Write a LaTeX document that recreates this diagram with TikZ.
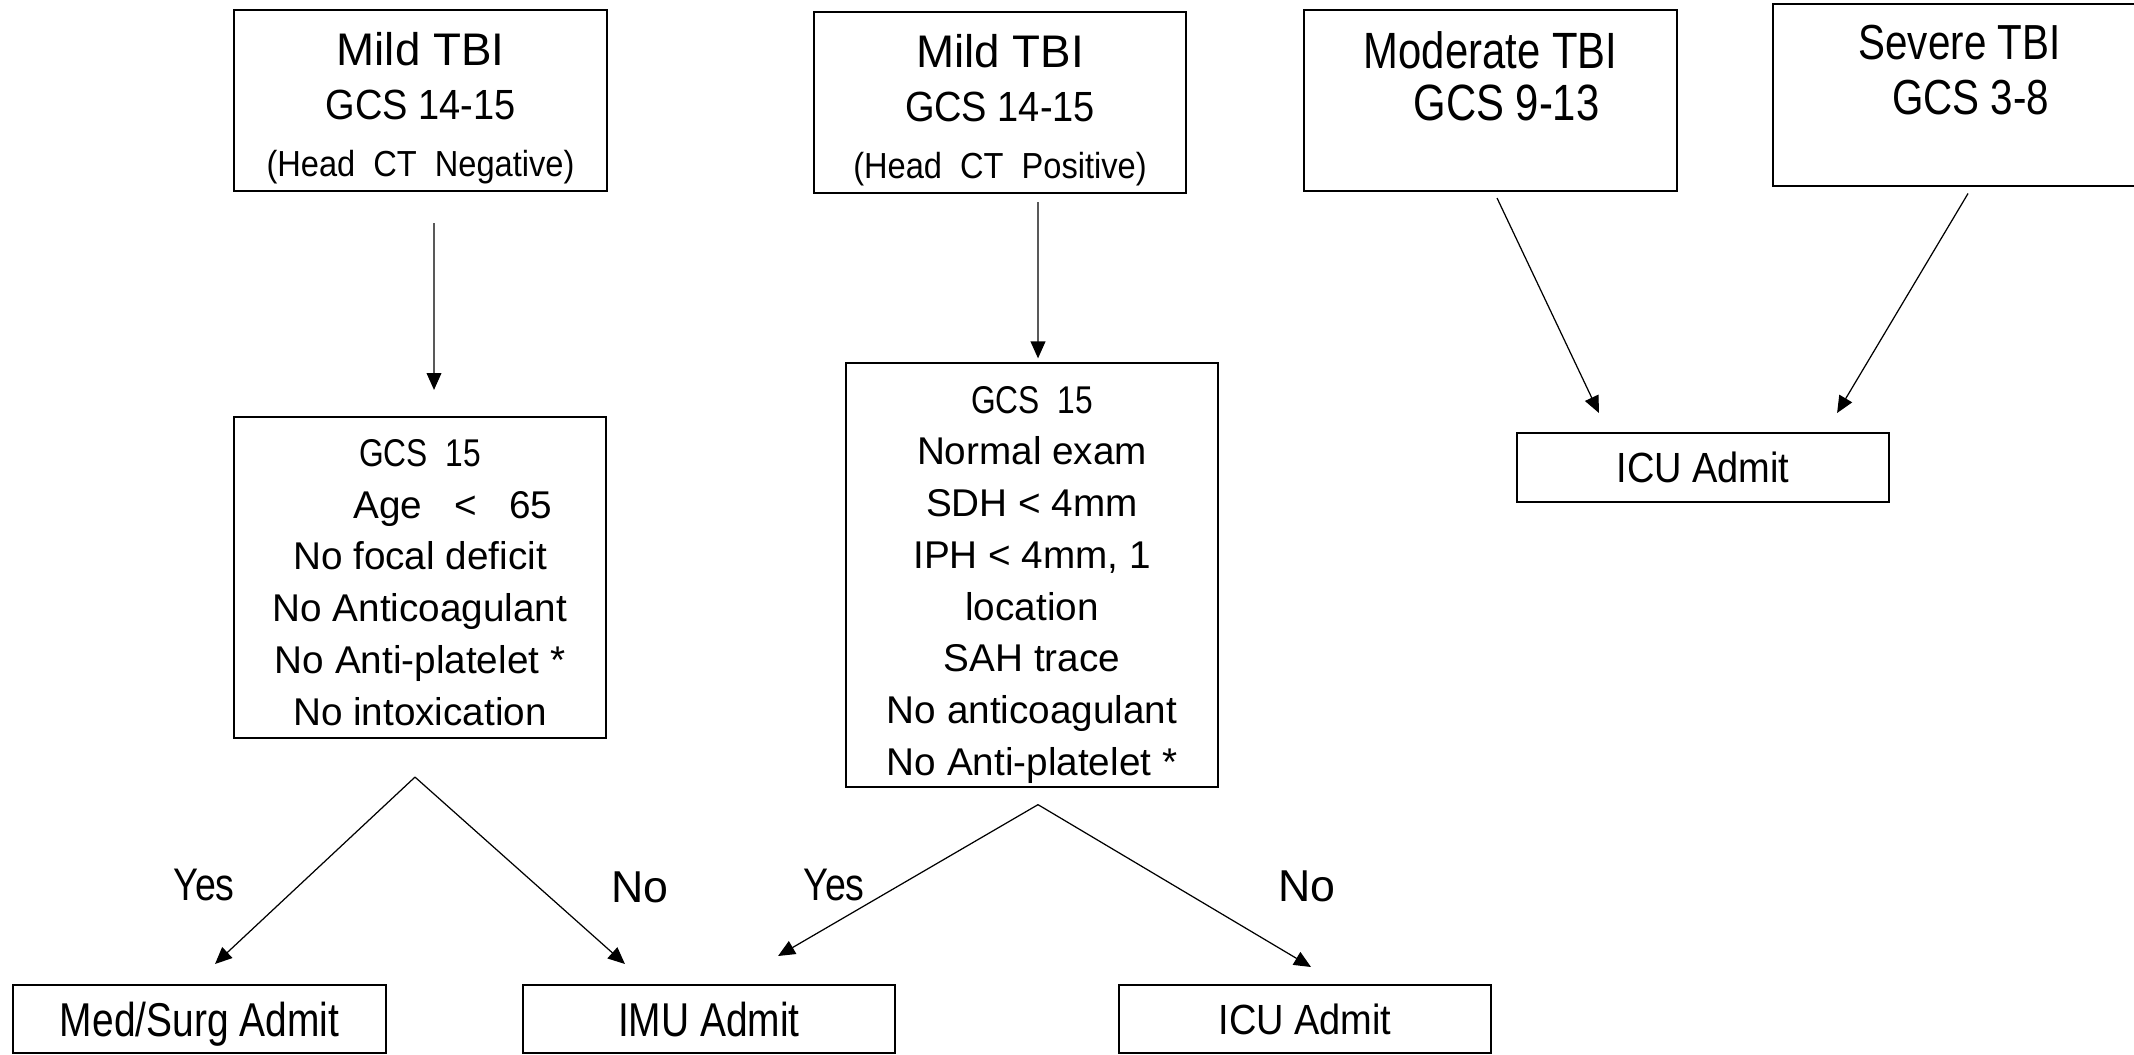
\documentclass[tikz,border=0pt]{standalone}
\usepackage{fontspec}
\setmainfont{Liberation Sans}
\newfontfamily\narrowfont{Liberation Sans}[FakeStretch=0.82]
\newfontfamily\semifont{Liberation Sans}[FakeStretch=0.9]
\usetikzlibrary{arrows.meta,positioning}

\begin{document}
\begin{tikzpicture}[
  x=0.01cm, y=-0.01cm,
  flow/.style={-{Triangle[length=4.8pt,width=4.2pt]}, line width=0.35pt, draw=black},
  tbox/.style={
    draw=black,
    line width=0.55pt,
    minimum width=3.72cm,
    inner sep=1pt,
    align=center
  },
  headbox/.style={tbox, minimum height=1.81cm, font=\fontsize{13}{15.4}\selectfont},
  headtext/.style={inner sep=0pt, align=center},
  critbox/.style={tbox, font=\fontsize{11}{14.7}\selectfont},
  admitbox/.style={tbox, minimum height=0.68cm, text depth=0pt},
  yeslabel/.style={font=\narrowfont\fontsize{13}{15}\selectfont},
  nolabel/.style={font=\fontsize{12.7}{15}\selectfont}
]

\useasboundingbox (0,0) rectangle (2134,1055);

\node[headbox] (negmild) at (420.5,100.5) {\rule{0pt}{13.8pt}Mild TBI\\
  \semifont\fontsize{12}{15.4}\selectfont GCS 14-15\\[0.8pt]
  \semifont\fontsize{10.3}{15.4}\selectfont (Head\enspace CT\enspace Negative)};
\node[headbox] (posmild) at (1000,102.5) {\rule{0pt}{13.8pt}Mild TBI\\
  \semifont\fontsize{12}{15.4}\selectfont GCS 14-15\\[0.8pt]
  \semifont\fontsize{10.3}{15.4}\selectfont (Head\enspace CT\enspace Positive)};

\node[headbox] (modtbi) at (1490.5,100.5) {};
\node[headtext, below=2.2mm of modtbi.north, font=\narrowfont\fontsize{14.5}{14.8}\selectfont] (modtxt) {Moderate TBI\\ \hspace*{0.32cm}GCS 9-13};
\node[headbox] (sevtbi) at (1959.5,95) {};
\node[headtext, below=2.1mm of sevtbi.north, font=\narrowfont\fontsize{14}{15.6}\selectfont] (sevtxt) {Severe TBI\\ \hspace*{0.22cm}GCS 3-8};

\node[critbox, minimum height=3.21cm] (negcrit) at (420,577.5) {\rule{0pt}{10.5pt}{\narrowfont GCS\ \ 15}\\
  \hspace*{0.66cm}Age\ \ \ <\ \ \ 65\\ No focal deficit\\ No Anticoagulant\\ No Anti-platelet *\\ No intoxication};
\node[critbox, minimum height=4.20cm] (poscrit) at (1032,575) {\rule{0pt}{13.2pt}{\narrowfont GCS\ \ 15}\\
  Normal exam\\ SDH < 4mm\\ IPH < 4mm, 1\\ location\\ SAH trace\\ No anticoagulant\\ No Anti-platelet *};

\node[admitbox, minimum height=0.69cm, font=\semifont\fontsize{12}{14}\selectfont] (icutop) at (1703,467.5) {ICU Admit};

\node[admitbox, font=\narrowfont\fontsize{13.5}{15}\selectfont] (medsurg) at (199.5,1019) {Med/Surg Admit};
\node[admitbox, font=\narrowfont\fontsize{13.5}{15}\selectfont] (imu) at (709,1019) {IMU Admit};
\node[admitbox, font=\semifont\fontsize{12}{14}\selectfont] (icubot) at (1305,1019) {ICU Admit};

\coordinate (splitA) at ([xshift=-0.05cm,yshift=-0.38cm]negcrit.south);
\coordinate (splitB) at ([xshift=0.06cm,yshift=-0.17cm]poscrit.south);

\draw[flow] ([xshift=0.135cm,yshift=-0.31cm]negmild.south) -- ([xshift=0.14cm,yshift=0.26cm]negcrit.north);
\draw[flow] ([xshift=0.38cm,yshift=-0.08cm]posmild.south) -- ([xshift=0.06cm,yshift=0.04cm]poscrit.north);
\draw[flow] ([xshift=0.065cm,yshift=-0.06cm]modtbi.south) -- ([xshift=-1.04cm,yshift=0.19cm]icutop.north);
\draw[flow] ([xshift=0.085cm,yshift=-0.07cm]sevtbi.south) -- ([xshift=1.34cm,yshift=0.19cm]icutop.north);

\draw[flow] (splitA) -- ([xshift=0.155cm,yshift=0.20cm]medsurg.north);
\draw[flow] (splitA) -- ([xshift=-0.84cm,yshift=0.20cm]imu.north);
\draw[flow] (splitB) -- ([xshift=0.69cm,yshift=0.28cm]imu.north);
\draw[flow] (splitB) -- ([xshift=0.06cm,yshift=0.17cm]icubot.north);

\node[yeslabel] (yesA) at (204,885) {Yes};
\node[nolabel] (noA) at (640,887) {No};
\node[yeslabel] (yesB) at (834,885) {Yes};
\node[nolabel] (noB) at (1307,886) {No};

\end{tikzpicture}
\end{document}
